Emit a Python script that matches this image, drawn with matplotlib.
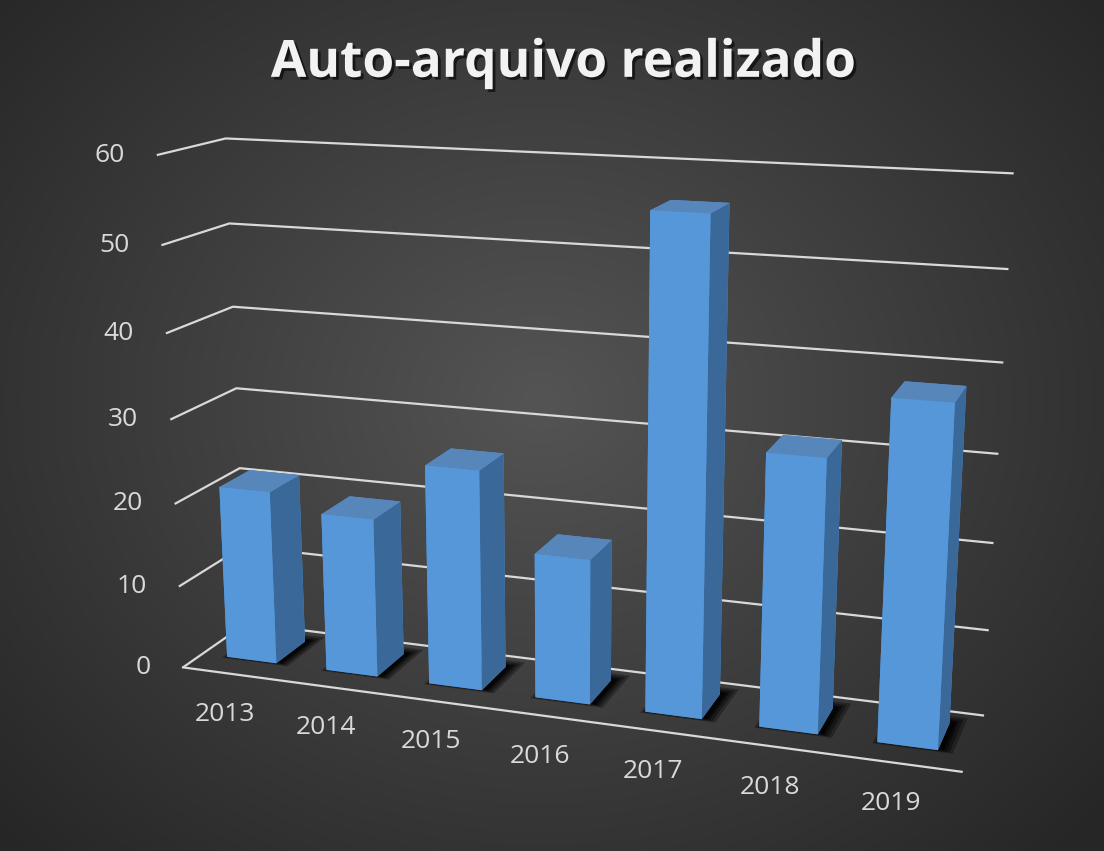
import numpy as np
import matplotlib
matplotlib.use("Agg")
import matplotlib.pyplot as plt
import matplotlib.patheffects as pe
import matplotlib.transforms as mtransforms
from mpl_toolkits.mplot3d import proj3d

years = ["2013", "2014", "2015", "2016", "2017", "2018", "2019"]
values = [21, 19, 26, 17, 56, 31, 38]
z_ticks = [0, 10, 20, 30, 40, 50, 60]
title = "Auto-arquivo realizado"

W, H = 1104, 851
fig = plt.figure(figsize=(W / 100, H / 100), dpi=100)

# background radial gradient
bg = fig.add_axes([0, 0, 1, 1], zorder=0)
yy, xx = np.mgrid[0:H, 0:W]
r = np.sqrt(((xx - 540) / 700.0) ** 2 + ((yy - 400) / 600.0) ** 2)
val = np.clip(0.33 - 0.17 * r, 0.15, 0.33)
bg.imshow(np.dstack([val, val, val]), extent=[0, W, H, 0], aspect="auto")
bg.set_xlim(0, W)
bg.set_ylim(H, 0)
bg.axis("off")

ax = fig.add_axes([-0.034, -0.098, 1.08, 1.14], projection="3d", zorder=1)
ax.set_facecolor((0, 0, 0, 0))
ax.computed_zorder = False

n = len(years)
xpos = np.arange(n) + 0.25
bw = 0.5
y0, bd = 0.3, 0.48

# soft shadows (layered)
for k, (grow, a) in enumerate([(0.16, 0.16), (0.11, 0.2), (0.06, 0.28), (0.02, 0.4)]):
    ax.bar3d(xpos - grow * 0.4 + 0.03, np.full(n, y0 - grow * 0.3 + 0.02), np.zeros(n),
             np.full(n, bw + grow), np.full(n, bd + grow), np.full(n, 0.01),
             color=(0, 0, 0, a), shade=False, zorder=1 + k * 0.1, edgecolor=(0, 0, 0, 0))

# faces: bottom, top, front(-y), back(+y), left(-x), right(+x)
face_cols = ["#3f78b5", "#5786bb", "#5597d8", "#5597d8", "#5597d8", "#3a6899"]
cols = []
for _ in range(n):
    cols.extend(face_cols)
ax.bar3d(xpos, np.full(n, y0), np.zeros(n), np.full(n, bw), np.full(n, bd),
         values, color=cols, shade=False, zorder=2, edgecolor=(0, 0, 0, 0))

ax.set_xlim(0, n)
ax.set_ylim(0, 1)
ax.set_zlim(0, 60)
ax.set_box_aspect((7.15, 1.25, 4.72), zoom=1.0)
ax.view_init(elev=15, azim=-71, roll=0)
ax.set_proj_type("persp", focal_length=0.4)

ax.set_xticks([])
ax.set_yticks([])
ax.set_zticks(z_ticks)
ax.set_zticklabels([])
for a in (ax.xaxis, ax.yaxis, ax.zaxis):
    a.set_pane_color((0, 0, 0, 0))
    a.pane.set_edgecolor((0, 0, 0, 0))
    a._axinfo["tick"]["inward_factor"] = 0
    a._axinfo["tick"]["outward_factor"] = 0
ax.zaxis._axinfo["grid"].update(color="#d9d9d9", linewidth=1.6)
ax.xaxis.line.set_color("#d9d9d9")
ax.xaxis.line.set_linewidth(1.6)
ax.yaxis.line.set_color((0, 0, 0, 0))
ax.zaxis.line.set_color((0, 0, 0, 0))

# labels placed in 2D at projected positions, with pixel offsets
M = ax.get_proj()
lab_font = dict(family="Open Sans", size=19, color="#d9d9d9")
ztrans = mtransforms.offset_copy(ax.transData, fig=fig, x=-32, y=0, units="dots")
for v in z_ticks:
    px, py, _ = proj3d.proj_transform(0.0, 0.0, v, M)
    ax.text2D(px, py, str(v), transform=ztrans, ha="right", va="center", **lab_font)
xtrans = mtransforms.offset_copy(ax.transData, fig=fig, x=-8, y=-40, units="dots")
for i, yr in enumerate(years):
    px, py, _ = proj3d.proj_transform(i + 0.5, 0.0, 0, M)
    ax.text2D(px, py, yr, transform=xtrans, ha="center", va="center", **lab_font)

fig.text(0.51, 0.925, title, ha="center", va="center", family="Open Sans",
         weight="bold", size=37, color="#f2f2f2",
         path_effects=[pe.withSimplePatchShadow(offset=(2, -2), shadow_rgbFace="black", alpha=0.6)])

fig.savefig("out.png", dpi=100)
